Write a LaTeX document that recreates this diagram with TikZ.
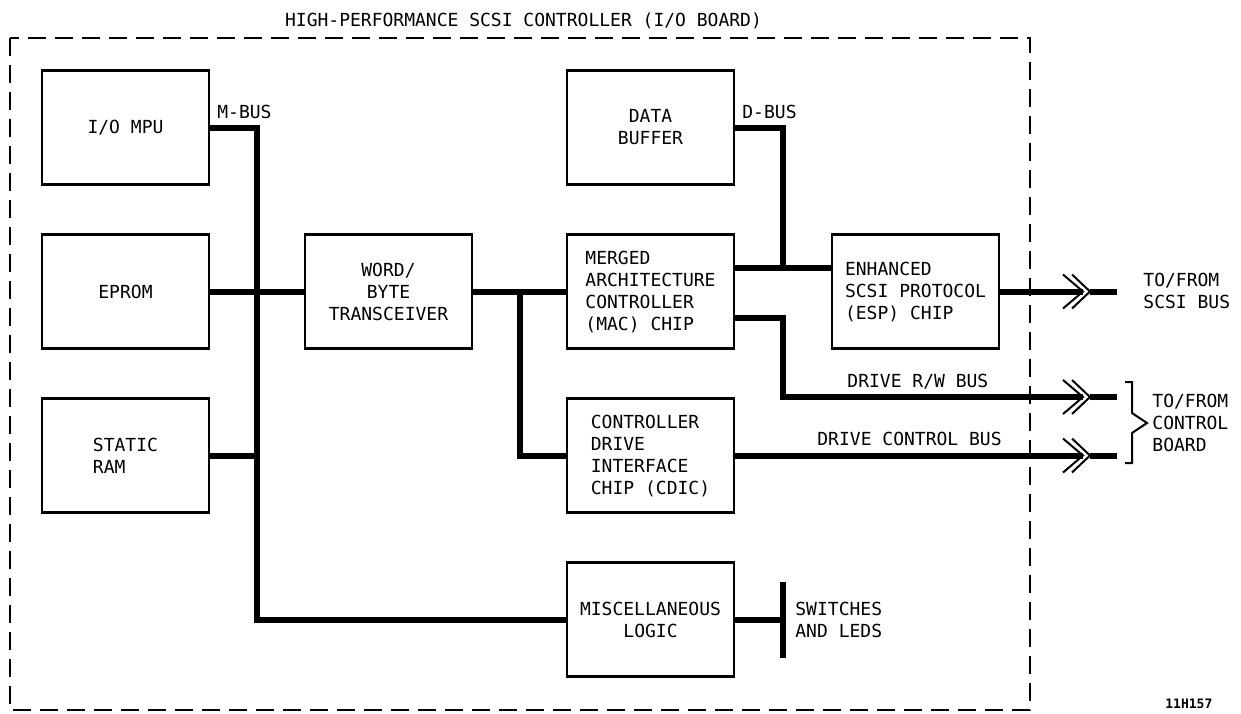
\documentclass[tikz,border=0pt]{standalone}
\usepackage{fontspec}
\newfontfamily\drawfont{DejaVu Sans Mono}
\usetikzlibrary{positioning,calc}

\begin{document}
\begin{tikzpicture}[x=0.5pt,y=-0.5pt,
  font=\drawfont\fontsize{9}{11}\selectfont,
  blk/.style={draw,line width=1.4pt,minimum width=83.5pt,minimum height=57pt,outer sep=0pt,align=center},
  bus/.style={line width=3pt},
  wire/.style={line width=1pt},
  frame/.style={line width=1.2pt,dash pattern=on 9pt off 4.5pt},
  lab/.style={inner sep=0pt,align=left}
]
\useasboundingbox (0,0) rectangle (1241,713);
\node[lab,anchor=base] (title) at (523.5,26) {HIGH-PERFORMANCE SCSI CONTROLLER (I/O BOARD)};
\draw[frame] (10,38) rectangle (1030,710);

\node[blk] (mpu) at (125.5,127.5) {I/O MPU};
\node[blk,below=25pt of mpu] (eprom) {EPROM};
\node[blk,below=25pt of eprom,align=left] (ram) {STATIC\\RAM};
\node[blk,right=48pt of eprom] (word) {WORD/\\BYTE\\TRANSCEIVER};
\node[blk,right=47.5pt of word,align=left] (mac) {MERGED\\ARCHITECTURE\\CONTROLLER\\(MAC) CHIP};
\node[blk,above=25pt of mac] (buf) {DATA\\BUFFER};
\node[blk,below=25pt of mac,align=left] (cdic) {CONTROLLER\\DRIVE\\INTERFACE\\CHIP (CDIC)};
\node[blk,below=25pt of cdic] (misc) {MISCELLANEOUS\\LOGIC};
\node[blk,right=49pt of mac,align=left] (esp) {ENHANCED\\SCSI PROTOCOL\\(ESP) CHIP};

\coordinate (mbus) at (257,0);
\coordinate (dbus) at (783,0);
\coordinate (br) at (520,0);
\coordinate (rw) at (1083,397);
\coordinate (macA) at ($(mac.east)+(0,-24)$);
\coordinate (macB) at ($(mac.east)+(0,26)$);
\coordinate (scsi) at (esp.east -| rw);
\coordinate (ctl) at (cdic.east -| rw);
\coordinate (sw) at (misc.east -| dbus);

\draw[bus] (mpu.east) -| (misc.west -| mbus) -- (misc.west);
\draw[bus] (eprom) -- (word);
\draw[bus] (ram.east) -- (ram.east -| mbus);
\draw[bus] (word) -- (mac);
\draw[bus] (word.east -| br) |- (cdic.west);
\draw[bus] (buf.east) -| (macA -| dbus);
\draw[bus] (macA) -- (macA -| esp.west);
\draw[bus] (macB) -| (rw -| dbus) -- (rw);
\draw[bus] (esp.east) -- (scsi);
\draw[bus] (cdic.east) -- (ctl);
\draw[bus] (misc.east) -- (sw);
\draw[bus] ($(sw)+(0,-38)$) -- ($(sw)+(0,38)$);

\foreach \p in {scsi,rw,ctl} {
  \draw[wire] ($(\p)+(-20,-17)$) -- (\p) -- ($(\p)+(-20,17)$);
  \draw[wire] ($(\p)+(-11,-17)$) -- ($(\p)+(7,0)$) -- ($(\p)+(-11,17)$);
  \draw[bus] ($(\p)+(7,0)$) -- ++(27,0);
}
\draw[wire] (1125,382) -- (1132,382) -- (1132,413) -- (1147,423) -- (1132,433) -- (1132,463) -- (1125,463);

\node[lab,anchor=base west] (mlab) at (217,118) {M-BUS};
\node[lab,anchor=base west] (dlab) at (742,118) {D-BUS};
\node[lab,anchor=base west] (rwlab) at (847,387) {DRIVE R/W BUS};
\node[lab,anchor=base west] (ctllab) at (817,445) {DRIVE CONTROL BUS};
\node[lab,anchor=west] (swlab) at (795,620) {SWITCHES\\AND LEDS};
\node[lab,anchor=west] (scsilab) at (1143,291) {TO/FROM\\SCSI BUS};
\node[lab,anchor=west] (ctlbd) at (1152,423) {TO/FROM\\CONTROL\\BOARD};
\node[lab,anchor=base west,font=\drawfont\bfseries\fontsize{6.5}{8}\selectfont] (fig) at (1165,708) {11H157};
\end{tikzpicture}
\end{document}
